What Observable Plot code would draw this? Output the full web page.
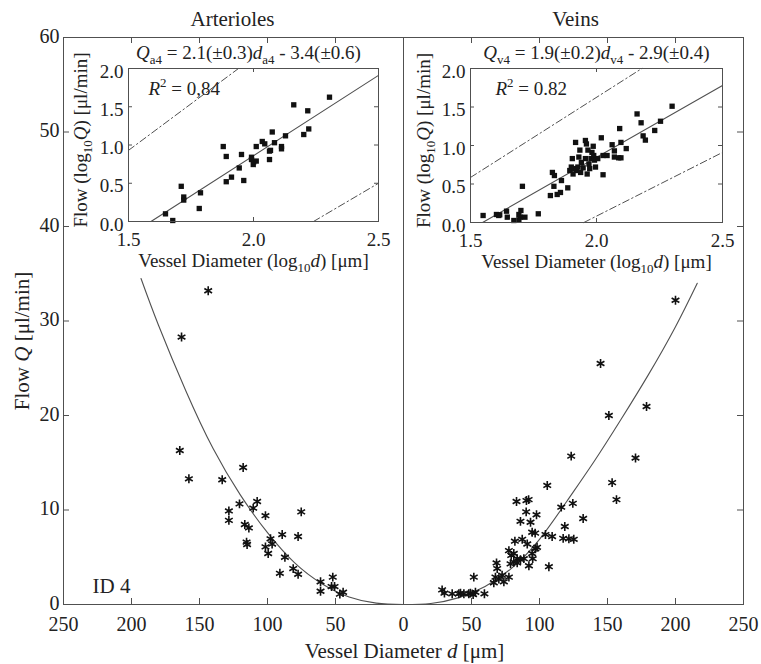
<!DOCTYPE html>
<html><head><meta charset="utf-8">
<script src="https://cdn.jsdelivr.net/npm/d3@7"></script>
<script src="https://cdn.jsdelivr.net/npm/@observablehq/plot@0.6"></script>
<style>
body{margin:0;background:#fff}
#wrap{position:relative;width:761px;height:664px;overflow:hidden;background:#fff}
#wrap svg{position:absolute;left:0;top:0}
</style>
</head><body><div id="wrap"></div>
<script>
// ---------- main panel data (diameter d [µm], flow Q [µl/min]) ----------
const artD = [143.6,163.2,164.5,157.8,133.3,117.9,128.4,128.4,120.6,110.5,107.6,116.7,113.7,115.4,115.0,101.5,75.2,97.8,96.6,101.5,99.5,89.2,77.5,87.2,90.9,81.1,77.5,61.0,61.0,52.0,52.9,50.7,46.8,44.4];
const artQ = [33.2,28.3,16.3,13.3,13.2,14.5,9.9,8.9,10.65,10.2,10.9,8.47,8.1,6.6,6.35,9.4,9.8,6.95,6.4,6.1,5.4,7.4,7.2,5.0,3.3,3.8,3.2,2.4,1.4,2.9,1.9,1.9,1.1,1.3];
const veinD = [200,144.9,151,178.7,123.3,170.6,153.4,156.6,105.7,83.1,90.4,92,90.2,97.8,86,93.4,116,124.5,132.1,118.6,94.6,96.8,104.4,109.3,117.4,121.6,125.2,81.9,87.3,91,77.5,79.2,81.1,83.6,86,88.5,94.6,97,98.2,95,92.2,106.9,78.7,81.1,83.6,68.4,68.9,67.6,70.1,72.5,73.8,77.5,66.4,51.7,28.4,30.1,35.8,40.7,44.4,48.0,51.2,52.9,59.5,41.9,49.2];
const veinQ = [32.2,25.5,20.0,20.95,15.7,15.5,12.9,11.1,12.6,10.9,11.0,11.1,9.8,9.5,8.8,8.7,10.3,10.7,9.1,8.25,7.65,7.55,7.4,7.2,7.0,6.95,6.9,6.7,6.9,6.4,5.7,5.2,5.4,4.85,4.75,4.85,5.4,5.9,6.05,4.85,4.1,4.0,4.3,4.5,4.4,4.4,3.8,2.9,2.7,3.1,2.4,2.9,2.3,2.9,1.55,1.2,1.13,1.13,1.13,1.13,1.06,1.3,1.13,1.2,1.2];
// fitted curves
const artCurveD = [0,20,40,60,80,100,120,140,160,180,193];
const artCurveQ = [0,0.15,0.8,2.2,4.4,7.6,11.6,16.5,22.6,29.5,34.5];
const veinCurveD = [0,20,40,60,80,100,120,140,160,180,200,216];
const veinCurveQ = [0,0.1,0.7,1.9,3.9,6.9,10.9,15.1,19.6,24.3,29.4,34.0];

// ---------- inset data (log10 d, log10 Q) ----------
const artLogD = [1.648,1.677,1.711,1.721,1.721,1.783,1.788,1.879,1.891,1.891,1.912,1.943,1.952,1.961,1.992,1.992,1.999,2.001,2.011,2.011,2.035,2.045,2.064,2.064,2.068,2.075,2.084,2.112,2.112,2.128,2.161,2.201,2.217,2.221,2.304];
const artLogQ = [0.10,0.013,0.46,0.32,0.28,0.17,0.375,0.98,0.85,0.52,0.58,0.70,0.876,0.536,0.84,0.81,0.745,0.78,0.79,0.98,1.046,1.015,0.92,0.81,0.93,1.17,1.03,0.98,0.95,1.12,1.525,1.137,1.447,1.21,1.625];
const veinLogD = [1.550,1.603,1.612,1.616,1.643,1.646,1.672,1.692,1.698,1.700,1.706,1.716,1.692,1.769,1.817,1.825,1.831,1.833,1.844,1.857,1.861,1.886,1.894,1.900,1.904,1.907,1.910,1.917,1.921,1.926,1.930,1.934,1.937,1.940,1.947,1.956,1.956,1.960,1.963,1.966,1.970,1.973,1.978,1.982,1.987,1.989,1.992,1.996,2.005,2.019,2.026,2.026,2.042,2.062,2.071,2.071,2.088,2.092,2.097,2.097,2.118,2.161,2.177,2.185,2.194,2.231,2.254,2.300];
const veinLogQ = [0.091,0.104,0.091,0.10,0.147,0.069,0.026,0.104,0.069,0.156,0.47,0.069,0.035,0.113,0.35,0.65,0.47,0.61,0.364,0.39,0.545,0.45,0.675,0.72,0.83,0.63,0.70,1.04,0.675,0.72,0.85,0.94,0.65,0.78,0.71,1.065,0.83,1.02,0.63,0.94,0.76,0.70,0.83,0.91,0.99,0.87,0.81,0.72,0.83,1.10,0.87,0.62,0.87,1.01,0.93,0.85,0.84,1.22,1.04,0.84,0.96,1.41,1.295,1.125,1.07,1.195,1.315,1.51];
// regression line and prediction bands (end points)
const artFitX = [1.59,2.5], artFitY = [0,1.91];
const artUpX = [1.5,1.94], artUpY = [0.93,2.0];
const artLoX = [2.24,2.5], artLoY = [0,0.50];
const veinFitX = [1.548,2.5], veinFitY = [0,1.78];
const veinUpX = [1.5,2.18], veinUpY = [0.585,2.0];
const veinLoX = [1.95,2.5], veinLoY = [0,0.91];

// ---------- ticks & labels ----------
const xTicks = [-250,-200,-150,-100,-50,0,50,100,150,200,250];
const yTicks = [0,10,20,30,40,50,60];
const insetXTicks = [1.5,2.0,2.5];
const insetYTicks = [0,0.5,1.0,1.5,2.0];

const FONT = '"Liberation Serif","Times New Roman",serif';
const INK = "#222";
const LINE = "#505050";
const zip = (a,b) => a.map((v,i) => ({x:v, y:b[i]}));

const art = zip(artD, artQ), vein = zip(veinD, veinQ);
const artCurve = zip(artCurveD, artCurveQ), veinCurve = zip(veinCurveD, veinCurveQ);

const W = 761, H = 664, mL = 63, mR = 18, mT = 37, mB = 60;
const fw = W - mL - mR, fh = H - mT - mB;

const main = Plot.plot({
  width: W, height: H, marginLeft: mL, marginRight: mR, marginTop: mT, marginBottom: mB,
  style: {fontFamily: FONT, color: INK, background: "white"},
  x: {domain: [-250, 250]},
  y: {domain: [0, 60]},
  marks: [
    Plot.ruleX([0], {stroke: LINE}),
    Plot.tickX(xTicks, {x: d => d, insetTop: fh - 6, stroke: LINE}),
    Plot.tickX(xTicks, {x: d => d, insetBottom: fh - 6, stroke: LINE}),
    Plot.tickY(yTicks, {y: d => d, insetRight: fw - 6, stroke: LINE}),
    Plot.tickY(yTicks, {y: d => d, insetLeft: fw - 6, stroke: LINE}),
    Plot.axisX(xTicks, {tickFormat: d => String(Math.abs(d)), tickSize: 0, tickPadding: 12, fontSize: 20, label: null}),
    Plot.axisY(yTicks, {tickSize: 0, tickPadding: 4, dy: -1, fontSize: 20, label: null}),
    Plot.line(artCurve, {x: d => -d.x, y: "y", curve: "natural", stroke: LINE, strokeWidth: 1.1}),
    Plot.line(veinCurve, {x: "x", y: "y", curve: "natural", stroke: LINE, strokeWidth: 1.1}),
    Plot.dot(art, {x: d => -d.x, y: "y", symbol: "asterisk", r: 4.2, stroke: "#111", strokeWidth: 1.6}),
    Plot.dot(vein, {x: "x", y: "y", symbol: "asterisk", r: 4.2, stroke: "#111", strokeWidth: 1.6}),
    Plot.frame({stroke: LINE}),
    Plot.text(["Arterioles"], {text: d => d, frameAnchor: "top-left", dx: 169, dy: -12, lineAnchor: "bottom", textAnchor: "middle", fontSize: 21, fill: INK}),
    Plot.text(["Veins"], {text: d => d, frameAnchor: "top-left", dx: 512, dy: -12, lineAnchor: "bottom", textAnchor: "middle", fontSize: 21, fill: INK}),
    Plot.text(["Flow *Q* [μl/min]"], {text: d => d, frameAnchor: "left", dx: -41, dy: 20, rotate: -90, lineAnchor: "middle", textAnchor: "middle", fontSize: 21, fill: INK}),
    Plot.text(["Vessel Diameter *d* [μm]"], {text: d => d, frameAnchor: "bottom", dx: 1, dy: 53, lineAnchor: "bottom", textAnchor: "middle", fontSize: 21, fill: INK}),
    Plot.text(["ID 4"], {text: d => d, frameAnchor: "bottom-left", dx: 29, dy: -12, lineAnchor: "bottom", textAnchor: "start", fontSize: 21, fill: INK})
  ]
});

function makeInset({mLeft, mRight, mBottom, pts, fit, up, lo, eq, r2, eqDx, r2Dx, yLabDx}) {
  const w = 330, h = 232, mTop = 28;
  const iw = w - mLeft - mRight, ih = h - mTop - mBottom;
  return Plot.plot({
    width: w, height: h, marginLeft: mLeft, marginRight: mRight, marginTop: mTop, marginBottom: mBottom,
    style: {fontFamily: FONT, color: INK, background: "transparent", overflow: "visible"},
    x: {domain: [1.5, 2.5]},
    y: {domain: [0, 2]},
    marks: [
      Plot.frame({fill: "white"}),
      Plot.tickX(insetXTicks, {x: d => d, insetTop: ih - 4, stroke: LINE}),
      Plot.tickX(insetXTicks, {x: d => d, insetBottom: ih - 4, stroke: LINE}),
      Plot.tickY(insetYTicks, {y: d => d, insetRight: iw - 4, stroke: LINE}),
      Plot.tickY(insetYTicks, {y: d => d, insetLeft: iw - 4, stroke: LINE}),
      Plot.axisX(insetXTicks, {tickFormat: d3.format(".1f"), tickSize: 0, tickPadding: 11, fontSize: 19, label: null}),
      Plot.axisY(insetYTicks, {tickFormat: d3.format(".1f"), tickSize: 0, tickPadding: 5, dy: 3, fontSize: 19, label: null}),
      Plot.line(up, {x: "x", y: "y", stroke: LINE, strokeWidth: 1, strokeDasharray: "7,3,1.5,3"}),
      Plot.line(lo, {x: "x", y: "y", stroke: LINE, strokeWidth: 1, strokeDasharray: "7,3,1.5,3"}),
      Plot.line(fit, {x: "x", y: "y", stroke: LINE, strokeWidth: 1.1}),
      Plot.dot(pts, {x: "x", y: "y", symbol: "square", r: 3, fill: "#111", stroke: "none"}),
      Plot.frame({stroke: LINE}),
      Plot.text([eq], {text: d => d, frameAnchor: "top", dx: eqDx, dy: -10, lineAnchor: "bottom", textAnchor: "middle", fontSize: 19, fill: INK}),
      Plot.text([r2], {text: d => d, frameAnchor: "top-left", dx: r2Dx, dy: 26, lineAnchor: "bottom", textAnchor: "start", fontSize: 19, fill: INK}),
      Plot.text(["Vessel Diameter (log_{10}*d*) [μm]"], {text: d => d, frameAnchor: "bottom", dx: 0, dy: 45, lineAnchor: "bottom", textAnchor: "middle", fontSize: 19, fill: INK}),
      Plot.text(["Flow (log_{10}*Q*) [μl/min]"], {text: d => d, frameAnchor: "left", dx: yLabDx, dy: -5, rotate: -90, lineAnchor: "middle", textAnchor: "middle", fontSize: 19, fill: INK})
    ]
  });
}

const insetA = makeInset({
  mLeft: 58, mRight: 22, mBottom: 51,
  pts: zip(artLogD, artLogQ), fit: zip(artFitX, artFitY), up: zip(artUpX, artUpY), lo: zip(artLoX, artLoY),
  eq: "*Q*_{a4} = 2.1(±0.3)*d*_{a4} - 3.4(±0.6)", r2: "*R*^{2} = 0,84", eqDx: -5, r2Dx: 20, yLabDx: -48
});
const insetV = makeInset({
  mLeft: 60, mRight: 18, mBottom: 50,
  pts: zip(veinLogD, veinLogQ), fit: zip(veinFitX, veinFitY), up: zip(veinUpX, veinUpY), lo: zip(veinLoX, veinLoY),
  eq: "*Q*_{v4} = 1.9(±0.2)*d*_{v4} - 2.9(±0.4)", r2: "*R*^{2} = 0.82", eqDx: 0, r2Dx: 25, yLabDx: -47
});

const wrap = document.getElementById("wrap");
wrap.append(main);
insetA.style.left = "70px"; insetA.style.top = "40px";
insetV.style.left = "410px"; insetV.style.top = "40px";
wrap.append(insetA, insetV);

// rich text: *italic*, _{sub}, ^{sup}
function richify(el) {
  const s = el.textContent;
  if (!/[*_^]/.test(s)) return;
  const fs = parseFloat(getComputedStyle(el).fontSize) || 19;
  el.textContent = "";
  const re = /\*([^*]+)\*|_\{([^}]+)\}|\^\{([^}]+)\}|([^*_^]+)/g;
  let m, cur = 0;
  while ((m = re.exec(s))) {
    const t = document.createElementNS("http://www.w3.org/2000/svg", "tspan");
    let target = 0, txt;
    if (m[1] != null) { txt = m[1]; t.setAttribute("font-style", "italic"); }
    else if (m[2] != null) { txt = m[2]; target = 0.3 * fs; t.setAttribute("font-size", (0.68 * fs) + "px"); }
    else if (m[3] != null) { txt = m[3]; target = -0.38 * fs; t.setAttribute("font-size", (0.68 * fs) + "px"); }
    else txt = m[4];
    if (target !== cur) { t.setAttribute("dy", String(target - cur)); cur = target; }
    t.textContent = txt;
    el.appendChild(t);
  }
}
wrap.querySelectorAll("text").forEach(richify);
</script></body></html>
